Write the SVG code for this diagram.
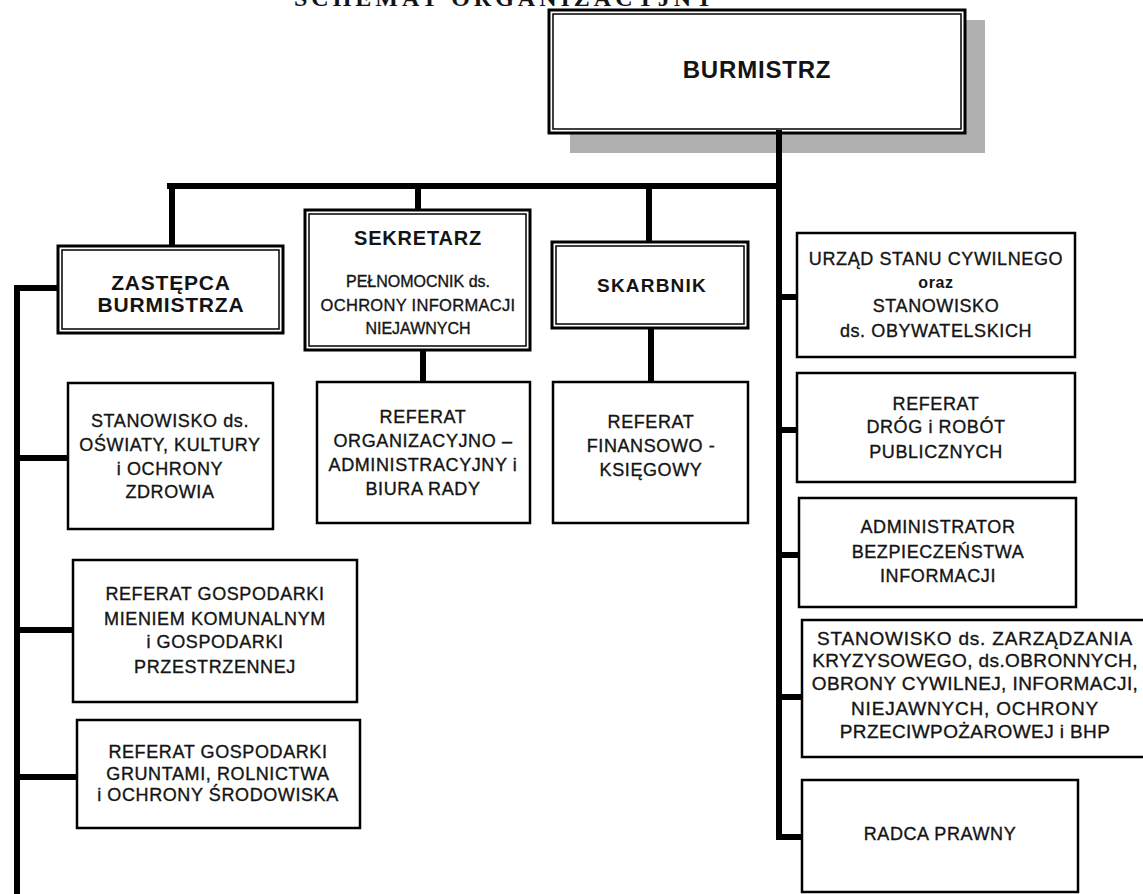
<svg xmlns="http://www.w3.org/2000/svg" width="1143" height="894" viewBox="0 0 1143 894">
<style>
.bg{fill:#ffffff}
.box{fill:#ffffff;stroke:#000;stroke-width:2.5}
.outer{fill:#ffffff;stroke:#000;stroke-width:3}
.inner{fill:none;stroke:#000;stroke-width:1.5}
.shadow{fill:#b0b0b0}
.conn{fill:none;stroke:#000;stroke-width:6;stroke-linecap:square}
text{font-family:"Liberation Sans",Arial,sans-serif;fill:#141414;text-anchor:middle}
.t{font-size:18px;letter-spacing:0.6px;stroke:#141414;stroke-width:0.35}
.tb{font-weight:bold;font-size:21px;letter-spacing:0.8px}
.title{font-family:"Liberation Serif","Times New Roman",serif;font-weight:bold;font-size:24px;letter-spacing:4px;text-anchor:start}
</style>
<rect class="bg" x="0" y="0" width="1143" height="894"/>
<text class="title" x="294" y="6">SCHEMAT ORGANIZACYJNY</text>

<g id="connectors">
<path class="conn" d="M779,133 V837 H802"/>
<path class="conn" d="M170,186 H779"/>
<path class="conn" d="M172,186 V246"/>
<path class="conn" d="M418,186 V210"/>
<path class="conn" d="M649,186 V242"/>
<path class="conn" d="M423,350 V382"/>
<path class="conn" d="M651,328 V382"/>
<path class="conn" d="M779,297 H797"/>
<path class="conn" d="M779,430 H797"/>
<path class="conn" d="M779,555 H799"/>
<path class="conn" d="M779,697 H802"/>
<path class="conn" d="M58,288 H17 V894"/>
<path class="conn" d="M17,458 H68"/>
<path class="conn" d="M17,630 H73"/>
<path class="conn" d="M17,777 H77"/>
</g>

<g id="burmistrz">
<rect class="shadow" x="570" y="133" width="415" height="20"/>
<rect class="shadow" x="965" y="20" width="20" height="133"/>
<rect class="outer" x="549" y="10" width="416" height="123"/>
<rect class="inner" x="553" y="14" width="408" height="115"/>
<text class="tb" x="757" y="78" style="font-size:24px">BURMISTRZ</text>
</g>
<path class="conn" d="M779,133 V153"/>

<g id="zastepca">
<rect class="outer" x="58" y="246" width="225" height="87"/>
<rect class="inner" x="62" y="250" width="217" height="79"/>
<text class="tb" x="171" y="290">ZASTĘPCA</text>
<text class="tb" x="171" y="312">BURMISTRZA</text>
</g>

<g id="sekretarz">
<rect class="outer" x="305" y="210" width="225" height="140"/>
<rect class="inner" x="309" y="214" width="217" height="132"/>
<text class="tb" x="418" y="245" style="font-size:20px">SEKRETARZ</text>
<text class="t" x="418" y="287" style="font-size:16px;letter-spacing:0">PEŁNOMOCNIK ds.</text>
<text class="t" x="418" y="311" style="font-size:16.5px;letter-spacing:0.3px">OCHRONY INFORMACJI</text>
<text class="t" x="418" y="334" style="font-size:16px;letter-spacing:0">NIEJAWNYCH</text>
</g>

<g id="skarbnik">
<rect class="outer" x="552" y="242" width="196" height="86"/>
<rect class="inner" x="556" y="246" width="188" height="78"/>
<text class="tb" x="652" y="292" style="font-size:19px;letter-spacing:1.2px">SKARBNIK</text>
</g>

<g id="referat-org">
<rect class="box" x="317" y="382" width="213" height="141"/>
<text class="t" x="423" y="423">REFERAT</text>
<text class="t" x="423" y="447">ORGANIZACYJNO –</text>
<text class="t" x="423" y="471">ADMINISTRACYJNY i</text>
<text class="t" x="423" y="495">BIURA RADY</text>
</g>

<g id="referat-fin">
<rect class="box" x="553" y="382" width="195" height="141"/>
<text class="t" x="651" y="428">REFERAT</text>
<text class="t" x="651" y="452">FINANSOWO -</text>
<text class="t" x="651" y="476">KSIĘGOWY</text>
</g>

<g id="oswiata">
<rect class="box" x="68" y="383" width="205" height="146"/>
<text class="t" x="170" y="427">STANOWISKO ds.</text>
<text class="t" x="170" y="451">OŚWIATY, KULTURY</text>
<text class="t" x="170" y="475">i OCHRONY</text>
<text class="t" x="170" y="498">ZDROWIA</text>
</g>

<g id="mienie">
<rect class="box" x="73" y="560" width="284" height="142"/>
<text class="t" x="215" y="600">REFERAT GOSPODARKI</text>
<text class="t" x="215" y="625">MIENIEM KOMUNALNYM</text>
<text class="t" x="215" y="648">i GOSPODARKI</text>
<text class="t" x="215" y="673">PRZESTRZENNEJ</text>
</g>

<g id="grunty">
<rect class="box" x="77" y="720" width="283" height="108"/>
<text class="t" x="218" y="758">REFERAT GOSPODARKI</text>
<text class="t" x="218" y="780">GRUNTAMI, ROLNICTWA</text>
<text class="t" x="218" y="801">i OCHRONY ŚRODOWISKA</text>
</g>

<g id="usc">
<rect class="box" x="797" y="233" width="278" height="124"/>
<text class="t" x="936" y="265">URZĄD STANU CYWILNEGO</text>
<text class="t" x="936" y="288" style="font-size:16px;font-weight:bold;stroke-width:0">oraz</text>
<text class="t" x="936" y="312">STANOWISKO</text>
<text class="t" x="936" y="337">ds. OBYWATELSKICH</text>
</g>

<g id="drogi">
<rect class="box" x="797" y="373" width="278" height="109"/>
<text class="t" x="936" y="410">REFERAT</text>
<text class="t" x="936" y="433">DRÓG i ROBÓT</text>
<text class="t" x="936" y="458">PUBLICZNYCH</text>
</g>

<g id="abi">
<rect class="box" x="799" y="498" width="277" height="109"/>
<text class="t" x="938" y="533">ADMINISTRATOR</text>
<text class="t" x="938" y="558">BEZPIECZEŃSTWA</text>
<text class="t" x="938" y="582">INFORMACJI</text>
</g>

<g id="zarzadzanie">
<rect class="box" x="802" y="620" width="345" height="137"/>
<text class="t" x="975" y="645" style="font-size:19px;letter-spacing:0.8px">STANOWISKO ds. ZARZĄDZANIA</text>
<text class="t" x="975" y="667" style="font-size:19px;letter-spacing:0.4px">KRYZYSOWEGO, ds.OBRONNYCH,</text>
<text class="t" x="975" y="690" style="font-size:19px;letter-spacing:0.4px">OBRONY CYWILNEJ, INFORMACJI,</text>
<text class="t" x="975" y="715" style="font-size:19px;letter-spacing:0.8px">NIEJAWNYCH, OCHRONY</text>
<text class="t" x="975" y="738" style="font-size:19px;letter-spacing:0.4px">PRZECIWPOŻAROWEJ i BHP</text>
</g>

<g id="radca">
<rect class="box" x="802" y="780" width="276" height="112"/>
<text class="t" x="940" y="840">RADCA PRAWNY</text>
</g>
</svg>
